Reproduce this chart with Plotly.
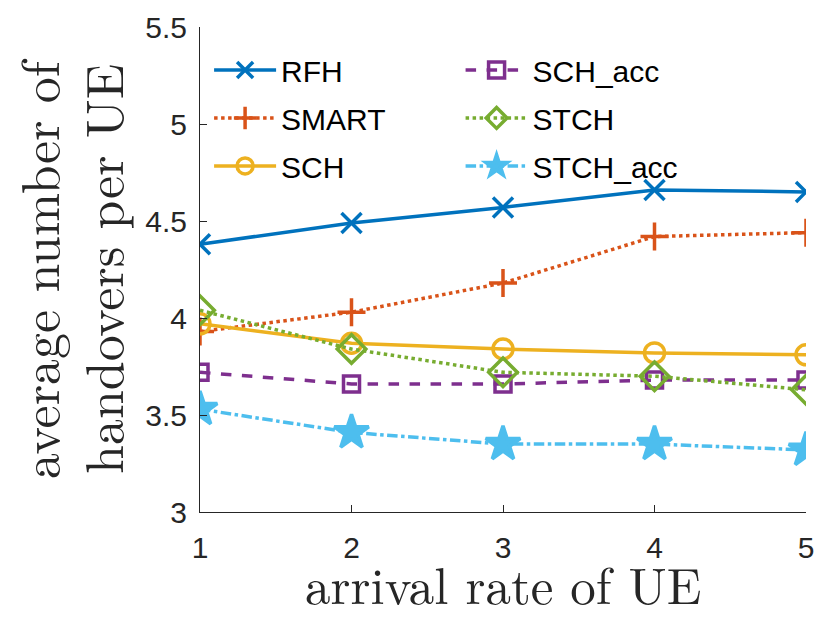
import plotly.graph_objects as go

x = [1, 2, 3, 4, 5]
rfh = [4.38, 4.49, 4.57, 4.66, 4.65]
smart = [3.93, 4.03, 4.18, 4.42, 4.44]
sch = [3.97, 3.87, 3.84, 3.82, 3.81]
sch_acc = [3.72, 3.66, 3.66, 3.68, 3.68]
stch = [4.04, 3.84, 3.72, 3.70, 3.63]
stch_acc = [3.53, 3.41, 3.35, 3.35, 3.32]

x_title = "arrival rate of UE"
y_title_lines = ["average number of", "handovers per UE"]

series = [
    ("RFH", rfh, "#0072BD", "solid", "x-thin", "legend", 1),
    ("SMART", smart, "#D95319", "dot", "cross-thin", "legend", 2),
    ("SCH", sch, "#EDB120", "solid", "circle-open", "legend", 3),
    ("SCH_acc", sch_acc, "#7E2F8E", "dash", "square-open", "legend2", 1),
    ("STCH", stch, "#77AC30", "dot", "diamond-open", "legend2", 2),
    ("STCH_acc", stch_acc, "#4DBEEE", "dashdot", "star", "legend2", 3),
]

fig = go.Figure()
for name, ys, color, dash, sym, leg, rank in series:
    size = 20
    if sym == "star":
        size = 26
    elif sym == "diamond-open":
        size = 22
    elif sym == "square-open":
        size = 16
    fig.add_trace(go.Scatter(
        x=x, y=ys, name=name, mode="lines+markers",
        line=dict(color=color, width=3.5, dash=dash),
        marker=dict(symbol=sym, size=size, color=color,
                    line=dict(color=color, width=3.5)),
        legend=leg, legendrank=rank, legendgroup=name,
    ))

axis_common = dict(
    showline=True, linecolor="#262626", linewidth=1,
    ticks="inside", ticklen=7, tickcolor="#262626",
    tickfont=dict(family="Liberation Sans, Arial", size=30, color="#262626"),
    showgrid=False, zeroline=False, mirror=False, automargin=False,
)

title_font = dict(family="Latin Modern Roman, DejaVu Serif, Liberation Serif", size=52, color="#262626")

L, R, T, B = 200, 11, 27, 108
PW, PH = 817 - L - R, 620 - T - B

fig.update_layout(
    width=817, height=620,
    margin=dict(l=L, r=R, t=T, b=B),
    paper_bgcolor="white", plot_bgcolor="white",
    xaxis=dict(range=[1, 5], tickvals=[1, 2, 3, 4, 5], ticklabelstandoff=9,
               **axis_common),
    yaxis=dict(range=[3, 5.5], dtick=0.5, ticklabelstandoff=6,
               **axis_common),
    legend=dict(x=0.015, y=0.965, xanchor="left", yanchor="top",
                bgcolor="rgba(0,0,0,0)", itemwidth=62, traceorder="grouped",
                tracegroupgap=6,
                font=dict(family="Liberation Sans, Arial", size=30, color="black")),
    legend2=dict(x=0.43, y=0.965, xanchor="left", yanchor="top",
                 bgcolor="rgba(0,0,0,0)", itemwidth=62, traceorder="grouped",
                 tracegroupgap=6,
                 font=dict(family="Liberation Sans, Arial", size=30, color="black")),
)

for txt, px in zip(y_title_lines, [37, 101]):
    fig.add_annotation(
        text=txt, textangle=-90, showarrow=False,
        xref="paper", yref="paper",
        x=(px - L) / PW, y=(T + PH - 269) / PH,
        xanchor="center", yanchor="middle",
        font=title_font,
    )

fig.add_annotation(
    text=x_title, showarrow=False,
    xref="paper", yref="paper",
    x=0.5, y=(T + PH - 620) / PH,
    xanchor="center", yanchor="bottom", borderpad=0,
    font=dict(family=title_font["family"], size=51, color="#262626"),
)

fig.write_html("out.html")
